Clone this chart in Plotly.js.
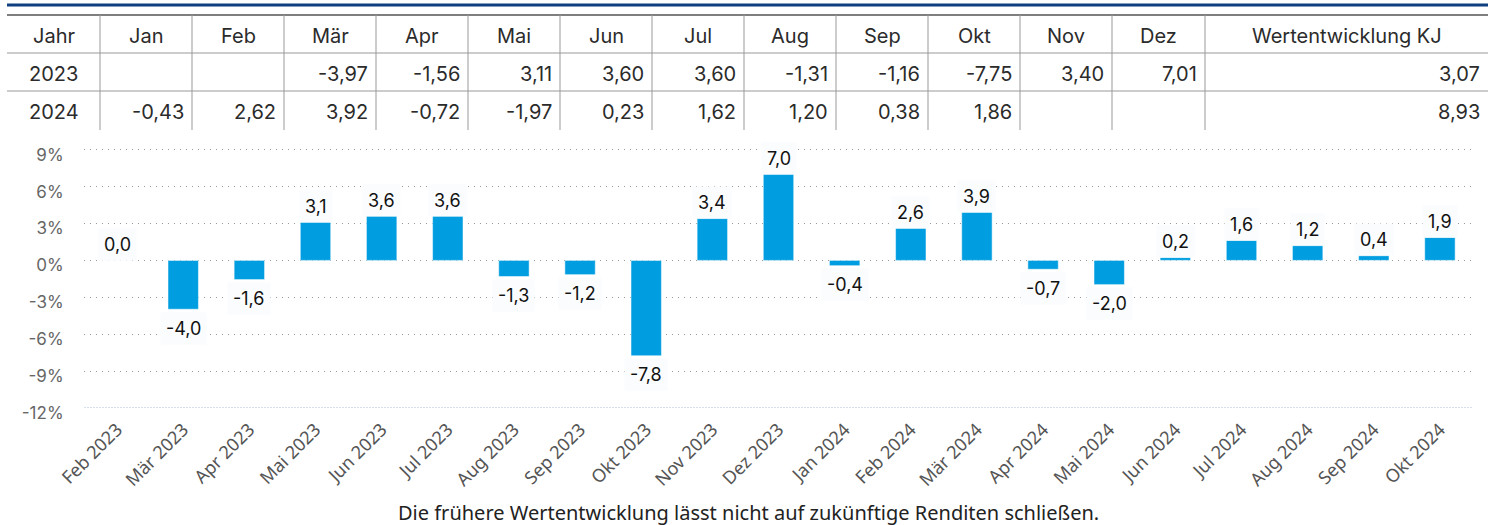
<!DOCTYPE html>
<html><head><meta charset="utf-8">
<script src="https://cdn.plot.ly/plotly-3.0.1.min.js"></script>
<style>html,body{margin:0;padding:0;background:#fff}#chart{width:1500px;height:525px}</style>
</head><body><div id="chart"></div>
<script>
// ---- data ----
const tableYears = ['2023', '2024'];
const tableMonths = ['Jan','Feb','Mär','Apr','Mai','Jun','Jul','Aug','Sep','Okt','Nov','Dez'];
const returns2023 = [null, null, -3.97, -1.56, 3.11, 3.60, 3.60, -1.31, -1.16, -7.75, 3.40, 7.01];
const returns2024 = [-0.43, 2.62, 3.92, -0.72, -1.97, 0.23, 1.62, 1.20, 0.38, 1.86, null, null];
const yearTotals = [3.07, 8.93];
const headerFirst = 'Jahr';
const headerLast = 'Wertentwicklung KJ';

const chartLabels = ['Feb 2023','Mär 2023','Apr 2023','Mai 2023','Jun 2023','Jul 2023','Aug 2023','Sep 2023','Okt 2023','Nov 2023','Dez 2023',
  'Jan 2024','Feb 2024','Mär 2024','Apr 2024','Mai 2024','Jun 2024','Jul 2024','Aug 2024','Sep 2024','Okt 2024'];
const chartValues = [0.00, -3.97, -1.56, 3.11, 3.60, 3.60, -1.31, -1.16, -7.75, 3.40, 7.01,
  -0.43, 2.62, 3.92, -0.72, -1.97, 0.23, 1.62, 1.20, 0.38, 1.86];
const yTickVals = [-12, -9, -6, -3, 0, 3, 6, 9];
const yTickText = ['-12%', '-9%', '-6%', '-3%', '0%', '3%', '6%', '9%'];
const footnote = 'Die frühere Wertentwicklung lässt nicht auf zukünftige Renditen schließen.';

// ---- layout geometry ----
const W = 1500, H = 525;
const ML = 84, MR = 27, MT = 146, MB = 117;
const PW = W - ML - MR, PH = H - MT - MB;
const px = x => (x - ML) / PW;
const py = y => (H - MB - y) / PH;

const colEdges = [7, 100, 192, 284, 376, 468, 560, 652, 744, 836, 928, 1020, 1112, 1205, 1488];
const rowCenters = [36, 74, 112];
const fmt2 = v => v == null ? '' : v.toFixed(2).replace('.', ',');
const fmt1 = v => v.toFixed(1).replace('.', ',');

const tableFont = {family: 'Inter, Lato, sans-serif', size: 20, color: '#2b2b2b'};
const shapes = [];
const annotations = [];

// table lines
shapes.push({type:'line', xref:'paper', yref:'paper', x0:px(7), x1:px(1488), y0:py(5), y1:py(5), line:{color:'#0e3f7e', width:3}});
shapes.push({type:'line', xref:'paper', yref:'paper', x0:px(7), x1:px(1488), y0:py(15), y1:py(15), line:{color:'#555', width:1.5}});
[53, 91].forEach(y => shapes.push({type:'line', xref:'paper', yref:'paper', x0:px(7), x1:px(1488), y0:py(y), y1:py(y), line:{color:'#999', width:1}}));
colEdges.slice(1, -1).forEach(x => shapes.push({type:'line', xref:'paper', yref:'paper', x0:px(x), x1:px(x), y0:py(15), y1:py(130), line:{color:'#999', width:1}}));

// table header
const headers = [headerFirst].concat(tableMonths, [headerLast]);
headers.forEach((h, i) => {
  annotations.push({xref:'paper', yref:'paper', x:px((colEdges[i] + colEdges[i+1]) / 2), y:py(rowCenters[0]),
    text:h, showarrow:false, xanchor:'center', yanchor:'middle', font:tableFont});
});
// table rows
const rows = [returns2023, returns2024];
rows.forEach((row, r) => {
  const yc = py(rowCenters[r + 1]);
  annotations.push({xref:'paper', yref:'paper', x:px((colEdges[0] + colEdges[1]) / 2), y:yc, text:tableYears[r],
    showarrow:false, xanchor:'center', yanchor:'middle', font:tableFont});
  row.forEach((v, i) => {
    if (v == null) return;
    annotations.push({xref:'paper', yref:'paper', x:px(colEdges[i + 2] - 6), y:yc, text:fmt2(v),
      showarrow:false, xanchor:'right', yanchor:'middle', font:tableFont});
  });
  annotations.push({xref:'paper', yref:'paper', x:px(colEdges[14] - 6), y:yc, text:fmt2(yearTotals[r]),
    showarrow:false, xanchor:'right', yanchor:'middle', font:tableFont});
});

// bar value labels
chartValues.forEach((v, i) => {
  annotations.push({x:chartLabels[i], y:v, xref:'x', yref:'y', text:fmt1(v), showarrow:false,
    xanchor:'center', yanchor:'middle', yshift: v >= 0 ? 16 : -19,
    font:{family:'Inter, Lato, sans-serif', size:18, color:'#111'},
    bgcolor:'#fafcfd', borderpad:5});
});

// baseline at -12
shapes.push({type:'line', xref:'paper', yref:'y', x0:0, x1:1, y0:-12, y1:-12, line:{color:'#ffffff', width:2}});
shapes.push({type:'line', xref:'paper', yref:'y', x0:0, x1:1, y0:-12, y1:-12, line:{color:'#aebfd8', width:1, dash:'2px,1px'}});

// footnote
annotations.push({xref:'paper', yref:'paper', x:px(748), y:py(512), text:footnote, showarrow:false,
  xanchor:'center', yanchor:'middle', font:{family:'Noto Sans, sans-serif', size:20, color:'#222'}});

const trace = {
  type:'bar', x:chartLabels, y:chartValues,
  marker:{color:'#009ee0', line:{color:'#ffffff', width:0.5}},
  hoverinfo:'skip'
};

const layout = {
  width:W, height:H,
  margin:{l:ML, r:MR, t:MT, b:MB, pad:0},
  paper_bgcolor:'#ffffff', plot_bgcolor:'#ffffff',
  showlegend:false, bargap:0.54,
  separators:',.',
  xaxis:{type:'category', tickangle:-45, range:[-0.5, chartLabels.length - 0.5],
    tickfont:{family:'Noto Sans, sans-serif', size:18, color:'#555'},
    showgrid:false, zeroline:false, showline:false, ticks:'outside', ticklen:3, tickcolor:'rgba(0,0,0,0)', fixedrange:true},
  yaxis:{range:[-12, 9.3], tickvals:yTickVals, ticktext:yTickText,
    tickfont:{family:'Inter, Lato, sans-serif', size:17, color:'#666'},
    showgrid:true, gridcolor:'#999', gridwidth:1, griddash:'1px,5px',
    zeroline:false, showline:false, ticks:'outside', ticklen:16, tickcolor:'rgba(0,0,0,0)',
    ticklabelshift:5, fixedrange:true},
  shapes:shapes, annotations:annotations
};

Plotly.newPlot('chart', [trace], layout, {displayModeBar:false, staticPlot:true});
</script>
</body></html>
